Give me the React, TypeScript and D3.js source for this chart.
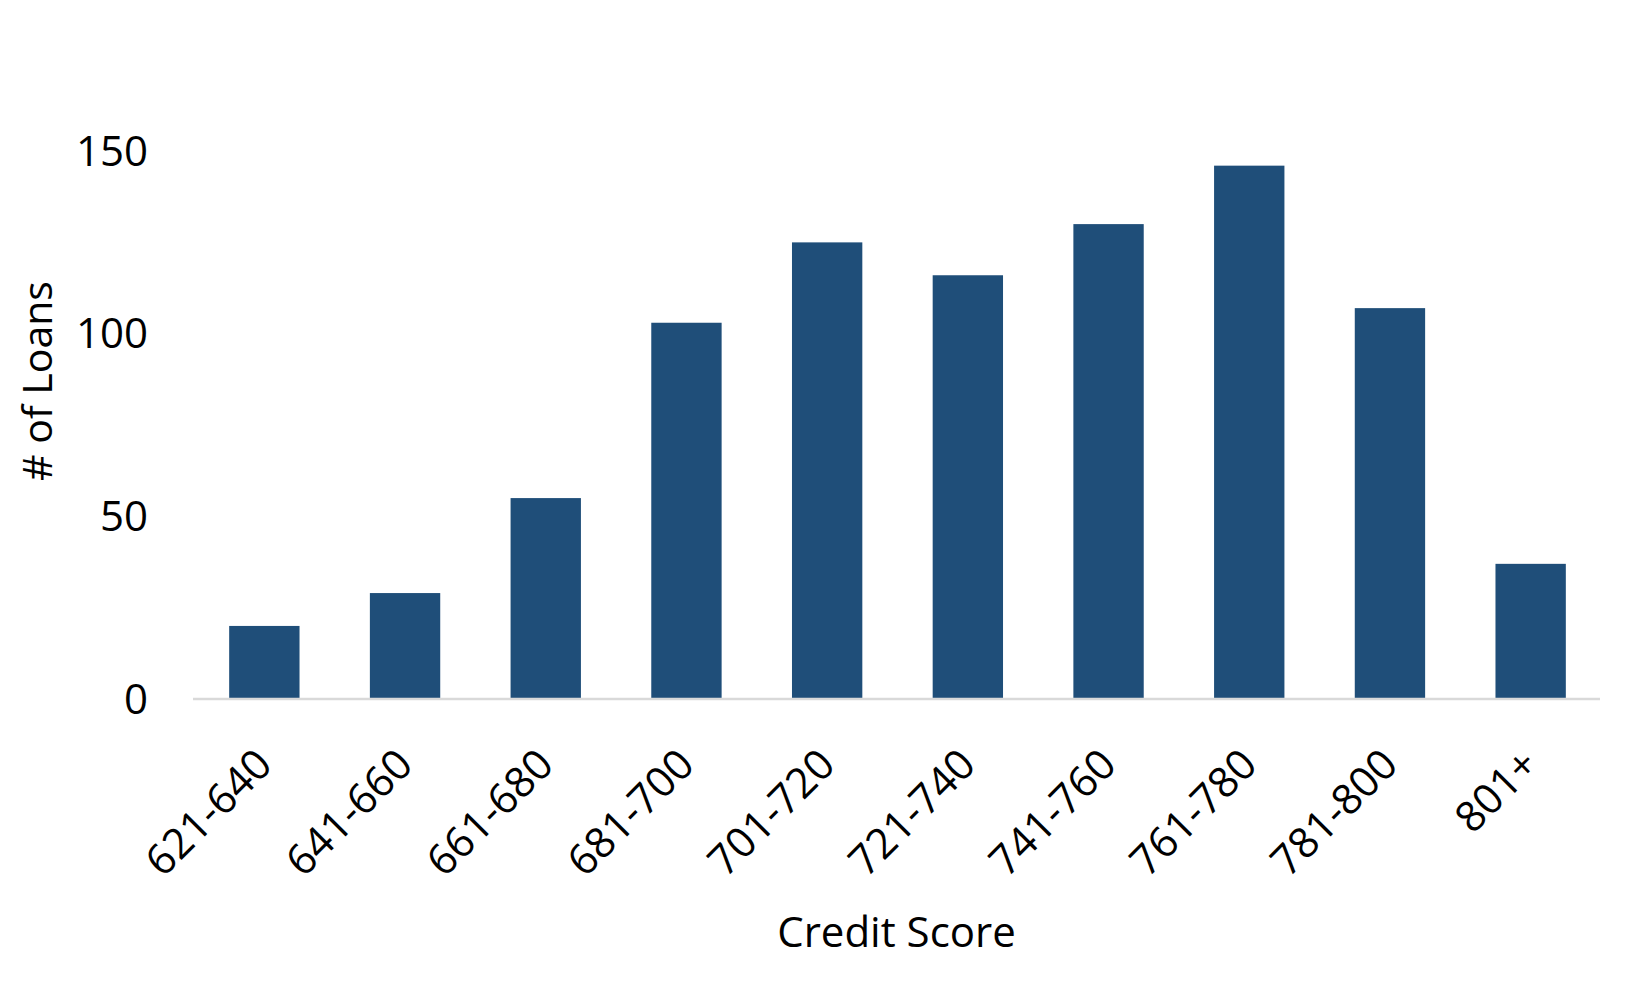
import React, { useEffect, useRef } from 'react';
import * as d3 from 'd3';

const categories = ["621-640", "641-660", "661-680", "681-700", "701-720", "721-740", "741-760", "761-780", "781-800", "801+"];
const loans = [20, 29, 55, 103, 125, 116, 130, 146, 107, 37];
const yTicks = [0, 50, 100, 150];

const xTitle = "Credit Score";
const yTitle = "# of Loans";

const W = 1651;
const H = 990;

const App: React.FC = () => {
  const svgRef = useRef<SVGSVGElement>(null);

  useEffect(() => {
    if (!svgRef.current) return;
    document.body.style.margin = "0";

    const font = "'Open Sans', 'Noto Sans', sans-serif";
    const fontSize = 42;
    const barColor = "#1f4e79";

    const svg = d3.select(svgRef.current);
    svg.selectAll("*").remove();

    const x = d3.scaleBand<string>()
      .domain(categories)
      .range([193, 1600])
      .paddingInner(0.5)
      .paddingOuter(0.25);

    const y = d3.scaleLinear()
      .domain([0, 175])
      .range([699, 699 - 175 * 3.653]);

    // Bars
    svg.append("g")
      .selectAll("rect")
      .data(loans)
      .enter().append("rect")
      .attr("x", (d, i) => x(categories[i])! + 1)
      .attr("y", d => y(d))
      .attr("width", x.bandwidth())
      .attr("height", d => y(0) - y(d))
      .attr("fill", barColor);

    // Baseline
    svg.append("line")
      .attr("x1", x.range()[0])
      .attr("x2", x.range()[1])
      .attr("y1", y(0))
      .attr("y2", y(0))
      .attr("stroke", "#d9d9d9")
      .attr("stroke-width", 2.5);

    // Y tick labels
    svg.append("g")
      .selectAll("text")
      .data(yTicks)
      .enter().append("text")
      .attr("x", 148)
      .attr("y", d => y(d))
      .attr("dy", "0.35em")
      .attr("text-anchor", "end")
      .style("font-family", font)
      .style("font-size", `${fontSize}px`)
      .style("fill", "#000")
      .text(d => d);

    // X tick labels, rotated
    svg.append("g")
      .selectAll("text")
      .data(categories)
      .enter().append("text")
      .attr("transform", d => `translate(${x(d)! + x.bandwidth() / 2 + 11},${767}) rotate(-45)`)
      .attr("text-anchor", "end")
      .style("font-family", font)
      .style("font-size", `${fontSize}px`)
      .style("fill", "#000")
      .text(d => d);

    // Axis titles
    svg.append("text")
      .attr("x", (x.range()[0] + x.range()[1]) / 2)
      .attr("y", 947)
      .attr("text-anchor", "middle")
      .style("font-family", font)
      .style("font-size", `${fontSize}px`)
      .style("fill", "#000")
      .text(xTitle);

    svg.append("text")
      .attr("transform", `translate(52,381) rotate(-90)`)
      .attr("text-anchor", "middle")
      .style("font-family", font)
      .style("font-size", "41px")
      .style("fill", "#000")
      .text(yTitle);
  }, []);

  return (
    <div style={{ width: W, height: H, background: "#fff" }}>
      <svg ref={svgRef} width={W} height={H} style={{ display: "block" }}></svg>
    </div>
  );
};

export default App;
